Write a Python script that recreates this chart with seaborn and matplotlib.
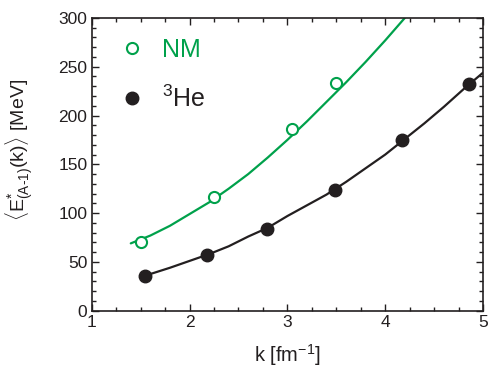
import numpy as np
import pandas as pd
import seaborn as sns
import matplotlib.pyplot as plt
from matplotlib.ticker import MultipleLocator

# data points
nm_k = [1.50, 2.25, 3.05, 3.50]
nm_e = [70, 117, 186, 233]
he_k = [1.55, 2.18, 2.79, 3.49, 4.17, 4.86]
he_e = [36, 57, 84, 124, 175, 232]

# fitted curves
nm_curve_k = [1.40, 1.60, 1.80, 2.00, 2.20, 2.40, 2.60, 2.80, 3.00, 3.20, 3.40, 3.60, 3.80, 4.00, 4.20]
nm_curve_e = [69, 77, 87, 99, 111, 125, 140, 157, 175, 194, 214, 234, 255, 277, 300]
he_curve_k = [1.55, 1.80, 2.00, 2.20, 2.40, 2.60, 2.80, 3.00, 3.20, 3.40, 3.60, 3.80, 4.00, 4.20, 4.40, 4.60, 4.80, 5.00]
he_curve_e = [36, 44, 51, 58, 66, 76, 85, 97, 108, 119, 132, 146, 160, 176, 192, 209, 227, 244]

green = '#00a14b'
black = '#231f20'

sns.set_style("ticks")
plt.rcParams['font.family'] = ['Liberation Sans', 'DejaVu Sans']
plt.rcParams['mathtext.fontset'] = 'custom'
plt.rcParams['mathtext.rm'] = 'Liberation Sans'
plt.rcParams['mathtext.it'] = 'Liberation Sans'

fig = plt.figure(figsize=(4.9, 3.73), dpi=100)
ax = fig.add_axes([0.187, 0.167, 0.799, 0.785])

sns.lineplot(x=nm_curve_k, y=nm_curve_e, color=green, lw=1.6, ax=ax, sort=False)
sns.lineplot(x=he_curve_k, y=he_curve_e, color=black, lw=1.6, ax=ax, sort=False)
ax.plot(nm_k, nm_e, 'o', ms=8, mfc='white', mec=green, mew=1.5, label='NM', zorder=5)
ax.plot(he_k, he_e, 'o', ms=9, mfc=black, mec=black, label=r'$^{3}$He', zorder=5)

ax.set_xlim(1, 5)
ax.set_ylim(0, 300)
ax.xaxis.set_major_locator(MultipleLocator(1))
ax.xaxis.set_minor_locator(MultipleLocator(0.25))
ax.yaxis.set_major_locator(MultipleLocator(50))
ax.yaxis.set_minor_locator(MultipleLocator(10))
ax.tick_params(which='both', direction='in', top=True, right=True, colors=black, labelsize=12.5, width=1)
ax.tick_params(which='major', length=5, pad=3)
ax.tick_params(which='minor', length=3)
for s in ax.spines.values():
    s.set_linewidth(1.2)
    s.set_color(black)

ax.set_xlabel(r'k [fm$^{-1}$]', fontsize=14.5, color=black, labelpad=9)
ax.set_ylabel(r'$\langle \mathrm{E}^{*}_{\mathrm{(A\text{-}1)}}\mathrm{(k)}\rangle$ [MeV]', fontsize=14, color=black, labelpad=6)
ax.yaxis.set_label_coords(-0.145, 0.55)

leg = ax.legend(loc='upper left', bbox_to_anchor=(0.013, 1.0), frameon=False, fontsize=18,
                handletextpad=0.6, labelspacing=0.95, borderaxespad=0.4,
                labelcolor=[green, black], handlelength=1.2)

fig.savefig('out.png', dpi=100)
